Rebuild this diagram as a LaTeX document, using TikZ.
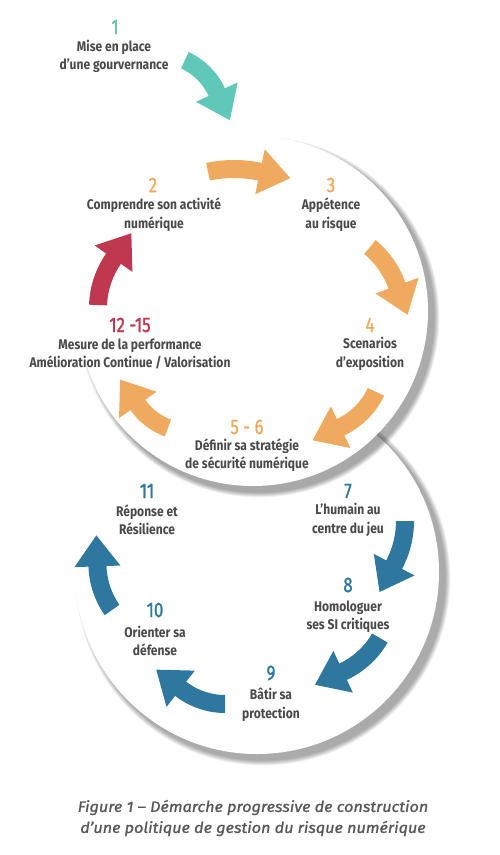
\documentclass[tikz,border=0pt]{standalone}
\usepackage{fontspec}
\setmainfont{Fira Sans}
\newfontfamily\labfont{Fira Sans}[FakeStretch=0.86]
\newfontfamily\numfont{Fira Sans}[FakeStretch=0.8, FakeBold=1.2]
\newfontfamily\capfont{Fira Sans}[FakeStretch=1.08, FakeBold=1.2]
\usetikzlibrary{calc}

\definecolor{tealc}{HTML}{5FC8B9}
\definecolor{orangec}{HTML}{F0AA5F}
\definecolor{redc}{HTML}{C03750}
\definecolor{bluec}{HTML}{2E78A0}
\definecolor{textc}{HTML}{4A4A4C}
\definecolor{capc}{HTML}{58585A}

% curved block arrow: colour, centre x, centre y, radius, start, end
\newcommand\cyclearrow[6]{%
	\pgfmathsetmacro\ro{#4+9}\pgfmathsetmacro\ri{#4-9}%
	\pgfmathsetmacro\ho{#4+23}\pgfmathsetmacro\hi{#4-23}%
	\pgfmathsetmacro\ta{#6+atan(31/#4)}\pgfmathsetmacro\tr{10*sqrt((#4/10)^2+9.61)}%
	\fill[#1] ($(#2,#3)+(#5:\ro)$) arc[start angle=#5, end angle=#6, radius=\ro]
		-- ($(#2,#3)+(#6:\ho)$) -- ($(#2,#3)+(\ta:\tr)$) -- ($(#2,#3)+(#6:\hi)$)
		-- ($(#2,#3)+(#6:\ri)$) arc[start angle=#6, end angle=#5, radius=\ri] -- cycle;
}

% circle with soft shadow: centre x, centre y, radius
\newcommand\shadedring[3]{%
	\foreach \k in {1,...,9}
		\fill[black, opacity=0.045] (#1+6,#2+6) circle[radius=#3+\k*0.6];
	\fill[white] (#1,#2) circle[radius=#3];
}

\tikzset{
	num/.style={font=\numfont\fontsize{21}{21}\selectfont, inner sep=0pt},
	lab/.style={font=\labfont\bfseries\fontsize{14}{18.5}\selectfont, text=textc, align=center, inner sep=0pt},
}

\begin{document}
\begin{tikzpicture}[x=1pt, y=-1pt]
		\useasboundingbox (0,0) rectangle (500,855);
		% the two rings
		\shadedring{257}{572}{182}
		\shadedring{253}{311}{175}
		% arrows
		\cyclearrow{tealc}{157}{120}{66}{-65}{-25}
		\cyclearrow{orangec}{234}{294}{125}{-102}{-78}
		\cyclearrow{orangec}{311.5}{316.7}{91}{-50}{-20}
		\cyclearrow{orangec}{309.8}{361}{73}{25}{65}
		\cyclearrow{orangec}{189.5}{368.8}{63}{110}{145}
		\cyclearrow{redc}{184}{308}{86}{182}{215}
		\cyclearrow{bluec}{312}{521}{93}{0}{28}
		\cyclearrow{bluec}{308}{596.5}{83}{30}{65}
		\cyclearrow{bluec}{225}{632}{72}{90}{128}
		\cyclearrow{bluec}{178.4}{563.5}{81}{145}{178}
		% steps
		\node at (115,27) [num, text=tealc] (n1) {1};
		\node at (114,56.5) [lab] (l1) {Mise en place\\d’une gourvernance};
		\node at (153,185) [num, text=orangec] (n2) {2};
		\node at (154,214.5) [lab] (l2) {Comprendre son activité\\numérique};
		\node at (331,185) [num, text=orangec] (n3) {3};
		\node at (331,214.5) [lab] (l3) {Appétence\\au risque};
		\node at (370,325) [num, text=orangec] (n4) {4};
		\node at (370,354) [lab] (l4) {Scenarios\\d’exposition};
		\node at (247,427) [num, text=orangec] (n56) {5 - 6};
		\node at (247,455) [lab] (l56) {Définir sa stratégie\\de sécurité numérique};
		\node at (130,325) [num, text=redc] (n12) {12 -15};
		\node at (130,354) [lab] (l12) {Mesure de la performance\\Amélioration Continue / Valorisation};
		\node at (348,491) [num, text=bluec] (n7) {7};
		\node at (348,520) [lab] (l7) {L’humain au\\centre du jeu};
		\node at (348,585) [num, text=bluec] (n8) {8};
		\node at (348,616.5) [lab] (l8) {Homologuer\\ses SI critiques};
		\node at (271,673) [num, text=bluec] (n9) {9};
		\node at (271,705) [lab] (l9) {Bâtir sa\\protection};
		\node at (155,610) [num, text=bluec] (n10) {10};
		\node at (155,641) [lab] (l10) {Orienter sa\\défense};
		\node at (147,491) [num, text=bluec] (n11) {11};
		\node at (147,520) [lab] (l11) {Réponse et\\Résilience};
		% caption
		\node at (253,818) [align=center, text=capc, inner sep=0pt, font=\capfont\itshape\fontsize{15}{21}\selectfont] (cap) {Figure 1 – Démarche progressive de construction\\d’une politique de gestion du risque numérique};
\end{tikzpicture}
\end{document}
